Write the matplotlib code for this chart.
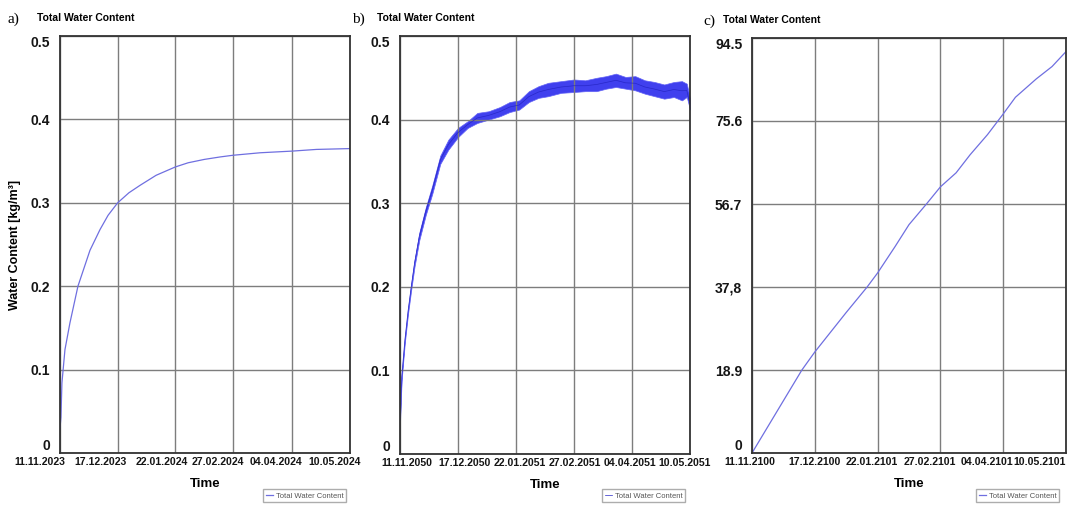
import datetime as dt
import matplotlib
matplotlib.use("Agg")
import matplotlib.pyplot as plt
import matplotlib.dates as mdates
import matplotlib.transforms as mtransforms

plt.rcParams["font.family"] = ["Liberation Sans", "DejaVu Sans"]

# a) 2023/24 - smooth saturation curve
start_a = dt.datetime(2023, 11, 11)
days_a = [0, 0.6, 1.2, 3.1, 6.2, 11.2, 18.7, 25, 30, 36, 43, 50, 60, 72, 80, 90,
          100, 108, 125, 145, 160, 181]
wc_a = [0.03, 0.043, 0.084, 0.124, 0.156, 0.2, 0.243, 0.268, 0.285, 0.30, 0.312,
        0.321, 0.333, 0.343, 0.348, 0.352, 0.355, 0.357, 0.36, 0.362, 0.364, 0.365]
ticks_a = ["11.11.2023", "17.12.2023", "22.01.2024", "27.02.2024", "04.04.2024", "10.05.2024"]

# b) 2050/51 - noisy curve, read as a lower/upper band
start_b = dt.datetime(2050, 11, 11)
days_b = [0, 1, 3, 5, 7, 9, 12, 16, 20, 25, 30, 36, 42, 48, 55, 62, 68, 74, 80, 86,
          92, 100, 108, 115, 122, 128, 134, 140, 146, 152, 158, 164, 170, 175, 178, 180]
low_b = [0.037, 0.088, 0.133, 0.168, 0.197, 0.224, 0.256, 0.286, 0.311, 0.347, 0.364,
         0.379, 0.390, 0.396, 0.400, 0.404, 0.409, 0.412, 0.421, 0.426, 0.428, 0.432,
         0.433, 0.434, 0.434, 0.437, 0.439, 0.437, 0.435, 0.431, 0.428, 0.425, 0.427,
         0.423, 0.427, 0.412]
high_b = [0.043, 0.094, 0.139, 0.174, 0.204, 0.232, 0.265, 0.295, 0.321, 0.357, 0.376,
          0.390, 0.398, 0.408, 0.410, 0.415, 0.421, 0.423, 0.434, 0.440, 0.444, 0.446,
          0.448, 0.447, 0.450, 0.452, 0.455, 0.451, 0.452, 0.447, 0.445, 0.442, 0.445,
          0.446, 0.443, 0.425]
ticks_b = ["11.11.2050", "17.12.2050", "22.01.2051", "27.02.2051", "04.04.2051", "10.05.2051"]

# c) 2100/01 - almost linear rise
start_c = dt.datetime(2100, 11, 11)
days_c = [0, 18, 28.6, 36, 54, 66, 72, 82, 90, 100, 108, 117, 125, 135, 144, 151, 163, 172, 180]
wc_c = [0, 11.9, 18.9, 23.0, 32.0, 37.8, 41.0, 47.0, 52.0, 56.7, 60.6, 63.8, 67.9,
        72.5, 77.2, 81.0, 85.2, 88.0, 91.4]
ticks_c = ["11.11.2100", "17.12.2100", "22.01.2101", "27.02.2101", "04.04.2101", "10.05.2101"]

yt_ab = [0, 0.1, 0.2, 0.3, 0.4, 0.5]
yl_ab = ["0", "0.1", "0.2", "0.3", "0.4", "0.5"]
yt_c = [0, 18.9, 37.8, 56.7, 75.6, 94.5]
yl_c = ["0", "18.9", "37,8", "56.7", "75.6", "94.5"]

W, H = 1068, 507
fig = plt.figure(figsize=(W / 100, H / 100), dpi=100)


def to_dates(start, days):
    return [start + dt.timedelta(days=d) for d in days]


def setup(ax, ticks, yt, yl, shifts):
    tdates = [dt.datetime.strptime(t, "%d.%m.%Y") for t in ticks]
    ax.set_xlim(tdates[0], tdates[-1])
    ax.set_ylim(yt[0], yt[-1])
    ax.set_xticks(tdates)
    ax.xaxis.set_major_formatter(mdates.DateFormatter("%d.%m.%Y"))
    ax.set_yticks(yt)
    ax.set_yticklabels(yl)
    ax.tick_params(axis="x", length=0, pad=3, labelsize=7.6)
    ax.tick_params(axis="y", length=0, pad=7, labelsize=10)
    for lab in ax.get_xticklabels() + ax.get_yticklabels():
        lab.set_fontweight("bold")
        lab.set_color("#151515")
    ylabs = ax.get_yticklabels()
    ylabs[0].set_va("bottom")
    ylabs[-1].set_va("top")
    # the original labels sit a little off their grid lines
    for lab, s in zip(ax.get_xticklabels(), shifts):
        off = mtransforms.ScaledTranslation(s / 100, 0, fig.dpi_scale_trans)
        lab.set_transform(lab.get_transform() + off)
    ax.grid(True, color="#7d7d7d", lw=1.0)
    for s in ax.spines.values():
        s.set_color("#333333")
        s.set_linewidth(1.3)
    ax.set_xlabel("Time", fontsize=9.5, fontweight="bold", labelpad=8)


def legend(ax, right_px):
    ax.legend(loc="lower right", bbox_to_anchor=(right_px / W, 1 - 506 / H),
              bbox_transform=fig.transFigure, fontsize=5.5, frameon=True,
              fancybox=False, edgecolor="#999999", handlelength=1.0,
              borderpad=0.35, handletextpad=0.3, labelcolor="#555555")


ax_a = fig.add_axes([60 / W, 1 - 453 / H, 290 / W, 417 / H])
ax_b = fig.add_axes([400 / W, 1 - 454 / H, 290 / W, 418 / H])
ax_c = fig.add_axes([752 / W, 1 - 453 / H, 314 / W, 415 / H])

ax_a.plot(to_dates(start_a, days_a), wc_a, color="#6f6fe0", lw=0.9, label="Total Water Content")
setup(ax_a, ticks_a, yt_ab, yl_ab, [-20, -17, -14, -15, -16, -15])
ax_a.set_ylabel("Water Content [kg/m³]", fontsize=9, fontweight="bold", labelpad=7)
legend(ax_a, 350)

db = to_dates(start_b, days_b)
ax_b.fill_between(db, low_b, high_b, color="#4040ee", lw=0.5, edgecolor="#6464f6")
ax_b.plot(db, [(l + h) / 2 for l, h in zip(low_b, high_b)], color="#2828c8", lw=0.5,
          label="Total Water Content")
setup(ax_b, ticks_b, yt_ab, yl_ab, [7, 7, 4, 1, -2, -5])
legend(ax_b, 689)

ax_c.plot(to_dates(start_c, days_c), wc_c, color="#6f6fe0", lw=0.9, label="Total Water Content")
setup(ax_c, ticks_c, yt_c, yl_c, [-2, 0, -6, -11, -16, -26])
legend(ax_c, 1063)

for x, y, letter in [(8, 19, "a)"), (352, 19, "b)"), (703, 21, "c)")]:
    fig.text(x / W, 1 - y / H, letter, family="Liberation Serif", fontsize=11, va="center")
for x, y in [(37, 18), (377, 18), (723, 20)]:
    fig.text(x / W, 1 - y / H, "Total Water Content", fontsize=7.5, fontweight="bold", va="center")

fig.savefig("out.png", dpi=100)
